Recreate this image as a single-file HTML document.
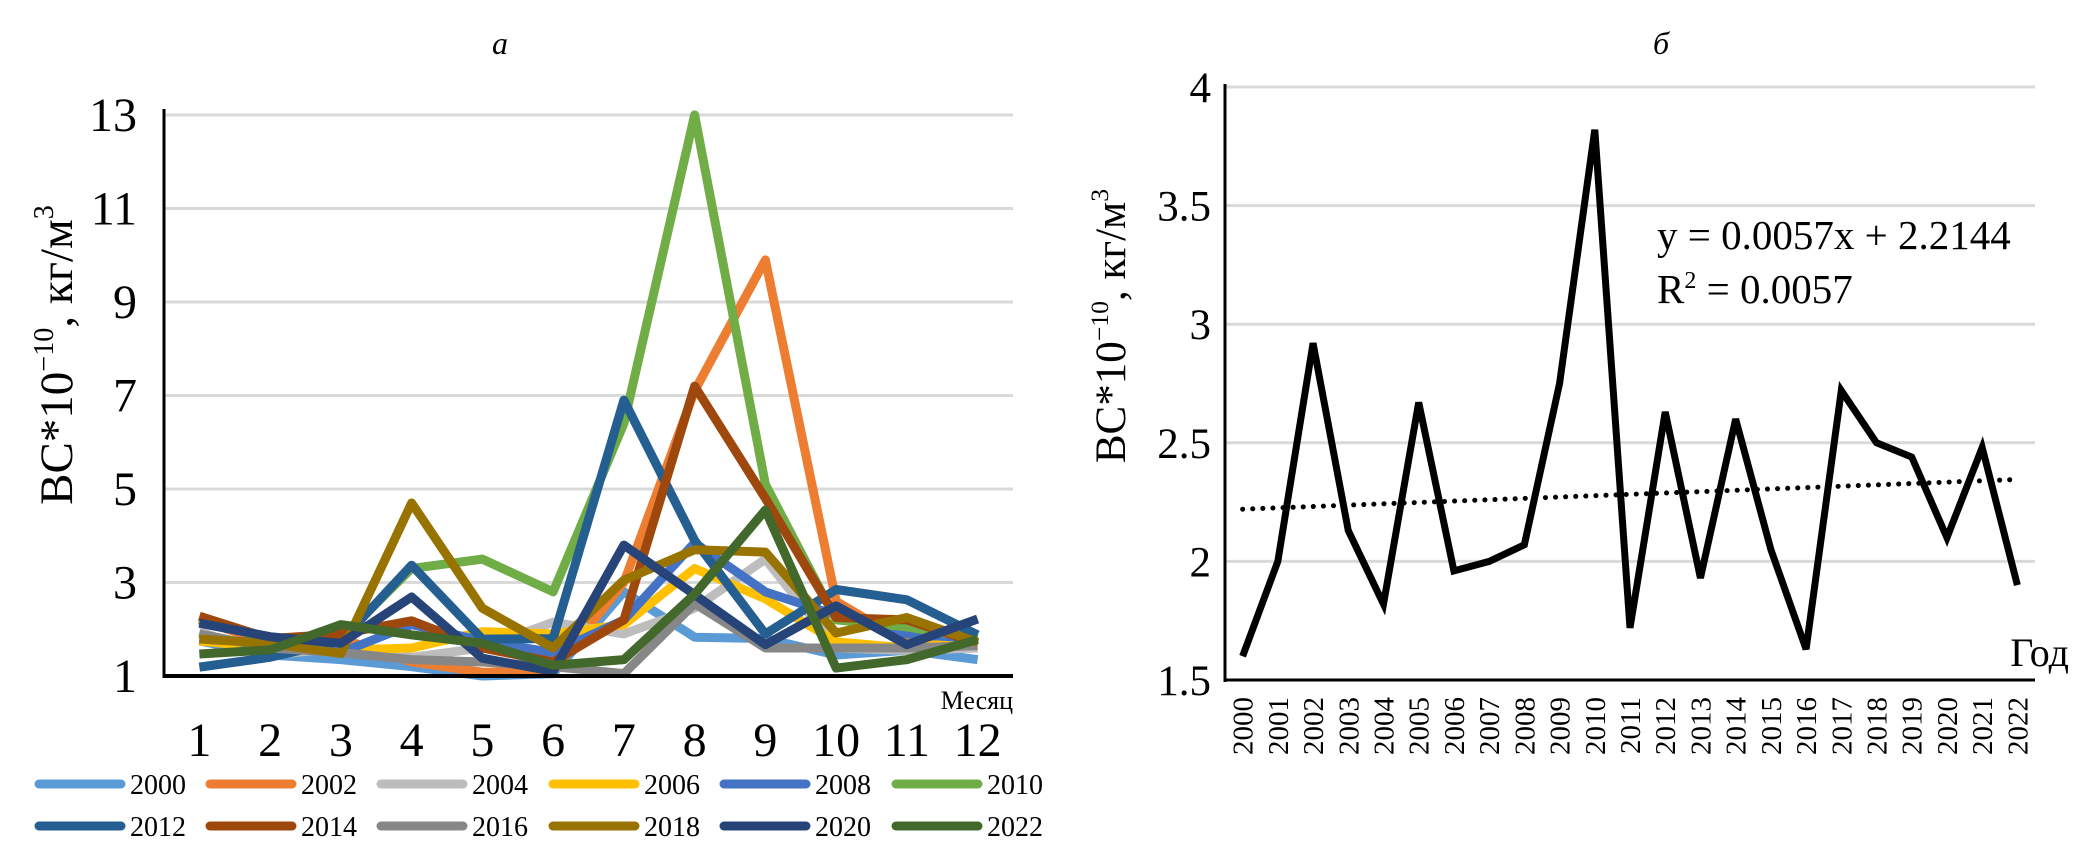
<!DOCTYPE html>
<html><head><meta charset="utf-8"><style>
html,body{margin:0;padding:0;background:#fff;}
svg{display:block;font-family:"Liberation Serif",serif;}
</style></head><body>
<svg id="chart" width="2098" height="852" viewBox="0 0 2098 852" xmlns="http://www.w3.org/2000/svg">
<g id="left"></g>
<g id="right"></g>
</svg>
<script>
const months = ["1","2","3","4","5","6","7","8","9","10","11","12"];
const seriesYears = ["2000","2002","2004","2006","2008","2010","2012","2014","2016","2018","2020","2022"];
const s2000 = [1.75,1.45,1.35,1.2,1.0,1.05,2.8,1.83,1.8,1.45,1.55,1.35];
const s2002 = [2.2,1.7,1.8,1.3,1.08,1.1,3.0,7.1,9.9,2.6,1.7,1.75];
const s2004 = [1.95,1.45,1.6,1.4,1.6,2.15,1.9,2.45,3.5,1.6,1.55,1.6];
const s2006 = [1.75,1.6,1.55,1.6,1.95,1.9,2.1,3.3,2.65,1.73,1.6,1.75];
const s2008 = [1.8,1.7,1.5,2.1,1.75,1.5,2.2,3.85,2.8,2.3,1.9,1.8];
const s2010 = [2.2,1.8,1.8,3.3,3.5,2.8,6.4,13.0,5.1,2.2,2.05,1.8];
const s2012 = [1.19,1.4,1.75,3.37,1.79,1.8,6.9,3.9,1.9,2.85,2.63,1.88];
const s2014 = [2.28,1.8,1.9,2.18,1.6,1.3,2.2,7.2,4.8,2.25,2.2,1.7];
const s2016 = [1.9,1.6,1.5,1.35,1.3,1.2,1.05,2.55,1.6,1.6,1.6,1.65];
const s2018 = [1.79,1.7,1.48,4.7,2.45,1.6,3.05,3.7,3.65,1.92,2.25,1.72];
const s2020 = [2.13,1.84,1.7,2.69,1.38,1.1,3.8,2.74,1.67,2.5,1.67,2.22];
const s2022 = [1.47,1.56,2.1,1.88,1.7,1.23,1.35,2.75,4.55,1.17,1.35,1.78];
const leftTicks = [1,3,5,7,9,11,13];
const years = ["2000","2001","2002","2003","2004","2005","2006","2007","2008","2009","2010","2011","2012","2013","2014","2015","2016","2017","2018","2019","2020","2021","2022"];
const annual = [1.60,2.00,2.92,2.13,1.82,2.67,1.96,2.00,2.07,2.75,3.82,1.72,2.63,1.93,2.60,2.05,1.63,2.72,2.50,2.44,2.10,2.48,1.90];
const rightTicks = [1.5,2,2.5,3,3.5,4];
const trendSlope = 0.0057, trendIntercept = 2.2144;

const NS="http://www.w3.org/2000/svg";
function mk(parent,tag,attrs,text){const e=document.createElementNS(NS,tag);for(const k in attrs)e.setAttribute(k,attrs[k]);if(text!==undefined)e.textContent=text;parent.appendChild(e);return e;}

// ---------- LEFT ----------
const L=document.getElementById('left');
const lx0=164,lx1=1013,ly0=676,ly1=115,lmin=1,lmax=13;
const lxs=i=>lx0+(lx1-lx0)/months.length*(i+0.5);
const lys=v=>ly0-(v-lmin)/(lmax-lmin)*(ly0-ly1);
const colors=["#5B9BD5","#ED7D31","#BDBDBD","#FFC000","#4472C4","#70AD47","#255E91","#9E480E","#878787","#997300","#264478","#43682B"];
const allSeries=[s2000,s2002,s2004,s2006,s2008,s2010,s2012,s2014,s2016,s2018,s2020,s2022];
leftTicks.forEach(t=>{
  if(t>lmin){const g=mk(L,'line',{x1:lx0,x2:lx1,y1:lys(t),y2:lys(t),stroke:'#d9d9d9','stroke-width':3});
  
  }
  const tl=mk(L,'text',{x:137,y:lys(t)+16,'text-anchor':'end','font-size':48},String(t));
  
  
});
allSeries.forEach((s,k)=>{
  const p=mk(L,'polyline',{points:s.map((v,i)=>lxs(i)+','+lys(v)).join(' '),fill:'none',stroke:colors[k],'stroke-width':9,'stroke-linejoin':'round'});
  
  
});
let ax=mk(L,'line',{x1:lx0,x2:lx0,y1:ly1-6,y2:ly0+2,stroke:'#000','stroke-width':3});


ax=mk(L,'line',{x1:lx0,x2:lx1,y1:ly0,y2:ly0,stroke:'#000','stroke-width':4});


months.forEach((m,i)=>{const t=mk(L,'text',{x:lxs(i),y:756,'text-anchor':'middle','font-size':48},m);
  
  });
let tx=mk(L,'text',{x:1013,y:709,'text-anchor':'end','font-size':26},'Месяц');


tx=mk(L,'text',{x:500,y:54,'text-anchor':'middle','font-size':32,'font-style':'italic'},'а');


function ytitle(parent,cx,cy,fs,name){
  const t=mk(parent,'text',{x:0,y:0,'text-anchor':'middle','font-size':fs,transform:'translate('+cx+','+cy+') rotate(-90)'});
  
  
  mk(t,'tspan',{},'BC*10');
  mk(t,'tspan',{'font-size':fs*0.6,dy:-fs*0.4},'−10');
  mk(t,'tspan',{dy:fs*0.4},', кг/м');
  mk(t,'tspan',{'font-size':fs*0.6,dy:-fs*0.4},'3');
}
ytitle(L,72,355,47,'y-axis-title-left');
// legend
const legX=[35,206,377,549,720,892], legY=[784,826];
seriesYears.forEach((y,k)=>{
  const cx=legX[k%6], cy=legY[Math.floor(k/6)];
  const g=mk(L,'g',{});
  
  
  mk(g,'line',{x1:cx+4,x2:cx+86,y1:cy,y2:cy,stroke:colors[k],'stroke-width':9,'stroke-linecap':'round'});
  mk(g,'text',{x:cx+95,y:cy+10,'font-size':28},y);
});

// ---------- RIGHT ----------
const R=document.getElementById('right');
const rx0=1225,rx1=2035,ry0=680,ry1=87,rmin=1.5,rmax=4;
const rxs=i=>rx0+(rx1-rx0)/years.length*(i+0.5);
const rys=v=>ry0-(v-rmin)/(rmax-rmin)*(ry0-ry1);
rightTicks.forEach(t=>{
  if(t>rmin){const g=mk(R,'line',{x1:rx0,x2:rx1,y1:rys(t),y2:rys(t),stroke:'#d9d9d9','stroke-width':3});
  
  }
  const tl=mk(R,'text',{x:1211,y:rys(t)+15,'text-anchor':'end','font-size':43},String(t));
  
  
});
const tr=mk(R,'line',{x1:rxs(0),x2:rxs(years.length-1),y1:rys(trendIntercept+trendSlope*1),y2:rys(trendIntercept+trendSlope*years.length),stroke:'#000','stroke-width':5,'stroke-dasharray':'0.1 10','stroke-linecap':'round'});


const ln=mk(R,'polyline',{points:annual.map((v,i)=>rxs(i)+','+rys(v)).join(' '),fill:'none',stroke:'#000','stroke-width':7,'stroke-linejoin':'miter'});


ax=mk(R,'line',{x1:rx0,x2:rx0,y1:ry1-3,y2:ry0+2,stroke:'#000','stroke-width':3});


ax=mk(R,'line',{x1:rx0,x2:rx1,y1:ry0,y2:ry0,stroke:'#000','stroke-width':3});


years.forEach((y,i)=>{const x=rxs(i)+10;
  const t=mk(R,'text',{x:0,y:0,'text-anchor':'end','font-size':29,transform:'translate('+x+',697) rotate(-90)'},y);
  
  });
tx=mk(R,'text',{x:2069,y:666,'text-anchor':'end','font-size':40},'Год');


tx=mk(R,'text',{x:1661,y:54,'text-anchor':'middle','font-size':32,'font-style':'italic'},'б');


tx=mk(R,'text',{x:1657,y:249,'font-size':41},'y = 0.0057x + 2.2144');


tx=mk(R,'text',{x:1657,y:303,'font-size':41});


mk(tx,'tspan',{},'R');mk(tx,'tspan',{'font-size':24,dy:-15},'2');mk(tx,'tspan',{dy:15},' = 0.0057');
ytitle(R,1125,326,43,'y-axis-title-right');
</script>
</body></html>
